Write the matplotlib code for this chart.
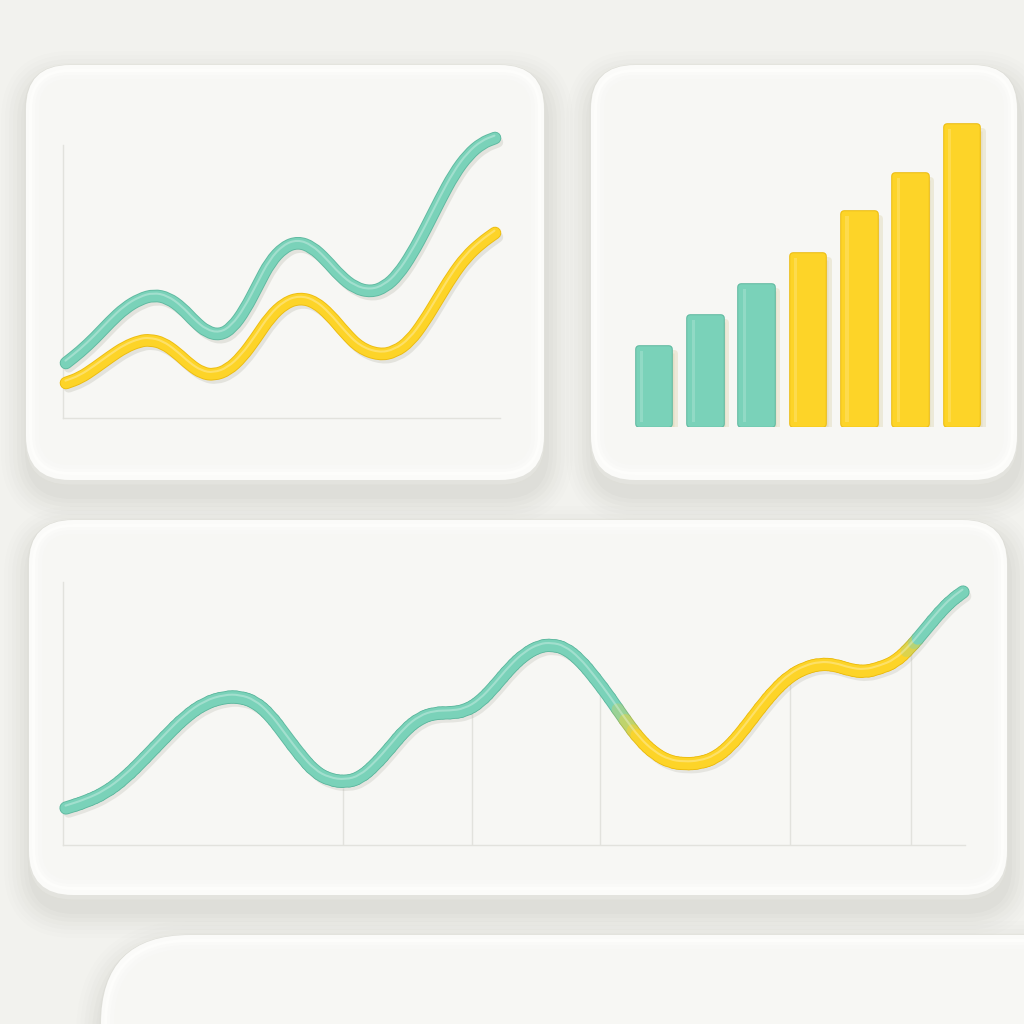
import numpy as np
import matplotlib
matplotlib.use("Agg")
import matplotlib.pyplot as plt
import matplotlib.patheffects as pe
import matplotlib.transforms as mtrans
from matplotlib.patches import FancyBboxPatch, PathPatch
from matplotlib.path import Path
from matplotlib.collections import LineCollection
from matplotlib.colors import to_rgb

# ---- data -------------------------------------------------------------
# top-left line chart (two series)
teal_x = [3, 17, 32, 47, 62, 77, 91, 105, 119, 132, 144, 157, 169, 182, 195, 207,
          221, 235, 249, 263, 277, 292, 308, 322, 335, 349, 363, 377, 391, 405, 419, 432]
teal_y = [55, 66, 80, 96, 110, 119, 123, 120, 110, 96, 86, 83, 90, 108, 133, 156,
          171, 176, 171, 158, 142, 130, 126, 131, 143, 164, 190, 218, 244, 263, 275, 280]
yellow_x = [3, 17, 32, 47, 62, 77, 87, 100, 114, 127, 139, 151, 165, 179, 193, 207,
            222, 237, 252, 267, 282, 297, 316, 332, 347, 361, 375, 389, 403, 418, 432]
yellow_y = [35, 40, 50, 61, 71, 77, 78, 75, 65, 53, 45, 43, 48, 61, 80, 101,
            115, 120, 116, 103, 85, 70, 63, 66, 77, 96, 119, 142, 161, 175, 185]

# top-right bar chart
bar_vals = [82, 113, 144, 175, 217, 255, 304]
bar_kind = ["teal", "teal", "teal", "yellow", "yellow", "yellow", "yellow"]

# bottom wide line chart
wide_x = [3, 22, 42, 62, 82, 102, 122, 142, 162, 177, 192, 207, 222, 237, 252, 267,
          283, 297, 312, 327, 342, 357, 372, 387, 402, 417, 432, 447, 462, 477, 489,
          502, 517, 532, 547, 562, 577, 592, 607, 622, 637, 652, 667, 682, 697, 712,
          727, 742, 757, 772, 787, 802, 817, 832, 847, 862, 877, 889, 900]
wide_y = [37, 43, 52, 67, 87, 108, 128, 142, 148, 148, 143, 130, 110, 90, 73, 65,
          63, 67, 80, 97, 115, 127, 132, 132, 134, 143, 159, 177, 191, 199, 200,
          197, 185, 167, 147, 125, 105, 91, 83, 81, 82, 87, 99, 117, 137, 155,
          169, 177, 181, 180, 175, 173, 177, 183, 197, 215, 233, 245, 253]
grid_x = [280, 409, 537, 727, 848]
yellow_from, yellow_to = 552, 842   # stretch of the wide line drawn in yellow

TEAL = "#7ad2b9"
TEAL_DK = "#5fb9a0"
YEL = "#fdd428"
YEL_DK = "#ecbc10"
BG = "#f2f2ee"
FACE = "#f7f7f4"
GRIDC = "#e2e2dd"

W = 1024


def box(l, t, r, b):
    return [l / W, 1 - b / W, (r - l) / W, (b - t) / W]


def smooth_path(x, y):
    # quadratic bezier through midpoints, readings used as control points
    p = np.column_stack([x, y]).astype(float)
    m = (p[:-1] + p[1:]) / 2
    verts = [p[0], m[0]]
    codes = [Path.MOVETO, Path.LINETO]
    for i in range(1, len(p) - 1):
        verts += [p[i], m[i]]
        codes += [Path.CURVE3, Path.CURVE3]
    verts.append(p[-1])
    codes.append(Path.LINETO)
    return Path(verts, codes)


def rbox(ax, l, t, w, h, rad, **kw):
    ax.add_patch(FancyBboxPatch((l, t), w, h, boxstyle=f"round,pad=0,rounding_size={rad}", **kw))


def panel(ax, l, t, r, b, rad=45):
    for i, a in enumerate([0.045, 0.04, 0.035, 0.03, 0.025, 0.02, 0.015]):
        g = 2 + i * 4
        rbox(ax, l - g + 2, t - g + 12, r - l + 2 * g, b - t + 2 * g, rad + g,
             fc="#9a9a90", ec="none", alpha=a, zorder=1)
    rbox(ax, l, t, r - l, b - t, rad, fc="#e3e3de", ec="#dedeD8", lw=0.6, zorder=2)
    rbox(ax, l + 1, t, r - l - 2, b - t - 5, rad - 1, fc="#fbfbf9", ec="none", zorder=3)
    # soft bevel: a few inset layers fading to the face colour
    for k, c in enumerate(["#fdfdfb", "#fafaf8", "#f8f8f6"]):
        d = 4 + k * 3
        rbox(ax, l + d, t + d, r - l - 2 * d, b - t - 2 * d - 6, rad - d, fc=c, ec="none", zorder=3.5 + k * 0.1)
    rbox(ax, l + 14, t + 14, r - l - 28, b - t - 34, rad - 14, fc=FACE, ec="none", zorder=4)


def highlight(ax, path, lw=1.5, z=6):
    ax.add_patch(PathPatch(path, fill=False, ec="white", lw=lw, alpha=0.3, capstyle="round",
                           clip_on=False, zorder=z,
                           transform=ax.transData + mtrans.ScaledTranslation(-0.4 / 72, 1.7 / 72, ax.figure.dpi_scale_trans)))


def tube(ax, path, color, dark, lw=7.8):
    fx = [pe.SimpleLineShadow(offset=(2, -3), shadow_color="#a8a89c", alpha=0.25),
          pe.Stroke(linewidth=lw + 1.3, foreground=dark), pe.Normal()]
    ax.add_patch(PathPatch(path, fill=False, ec=color, lw=lw, capstyle="round", joinstyle="round",
                           clip_on=False, zorder=5, path_effects=fx))
    highlight(ax, path)


def frame(ax, left_top):
    for s in ["top", "right"]:
        ax.spines[s].set_visible(False)
    ax.spines["left"].set_bounds(0, left_top)
    for s in ["left", "bottom"]:
        ax.spines[s].set_color(GRIDC)
        ax.spines[s].set_linewidth(1.0)
    ax.set_xticks([])
    ax.set_yticks([])
    ax.patch.set_alpha(0)


fig = plt.figure(figsize=(10.24, 10.24), dpi=100, facecolor=BG)
bg = fig.add_axes([0, 0, 1, 1])
bg.set_xlim(0, W)
bg.set_ylim(W, 0)
bg.axis("off")

panel(bg, 25, 65, 545, 485)
panel(bg, 590, 65, 1018, 485)
panel(bg, 28, 520, 1008, 900)
panel(bg, 100, 935, 1130, 1250, rad=90)

# ---- top-left line chart ----
ax1 = fig.add_axes(box(63, 130, 500, 418))
ax1.set_xlim(0, 437)
ax1.set_ylim(0, 288)
frame(ax1, 273)
tube(ax1, smooth_path(yellow_x, yellow_y), YEL, YEL_DK)
tube(ax1, smooth_path(teal_x, teal_y), TEAL, TEAL_DK)

# ---- top-right bar chart ----
ax2 = fig.add_axes(box(628.4, 100, 987.6, 427))
ax2.set_xlim(-0.5, 6.5)
ax2.set_ylim(0, 327)
ax2.axis("off")
xs = np.arange(len(bar_vals))
cols = [TEAL if k == "teal" else YEL for k in bar_kind]
dks = [TEAL_DK if k == "teal" else YEL_DK for k in bar_kind]
hts = [v - 7 for v in bar_vals]
sh = mtrans.ScaledTranslation(3 / 72, -3 / 72, fig.dpi_scale_trans)
ax2.bar(xs, hts, width=0.6, bottom=3.5, color="#d9cfa6", edgecolor="#d9cfa6", lw=5,
        joinstyle="round", alpha=0.35, transform=ax2.transData + sh, zorder=1)
ax2.bar(xs, hts, width=0.6, bottom=3.5, color=cols, edgecolor=dks, lw=5.5,
        joinstyle="round", zorder=2)
ax2.bar(xs, hts, width=0.6, bottom=3.5, color=cols, edgecolor=cols, lw=4,
        joinstyle="round", zorder=3)
ax2.bar(xs - 0.24, [h - 4 for h in hts], width=0.06, bottom=5.5, color="white",
        alpha=0.18, lw=0, zorder=4)

# ---- bottom wide line chart ----
ax3 = fig.add_axes(box(63, 560, 965, 845))
ax3.set_xlim(0, 902)
ax3.set_ylim(0, 285)
frame(ax3, 263)
wx = np.array(wide_x, dtype=float)
wy = np.array(wide_y, dtype=float)
ax3.vlines(grid_x, 0, np.interp(grid_x, wx, wy) - 6, color=GRIDC, lw=1.0, zorder=2)

wpath = smooth_path(wide_x, wide_y)
pts = wpath.to_polygons(closed_only=False)[0]
segs = np.stack([pts[:-1], pts[1:]], axis=1)
mid = segs.mean(axis=1)[:, 0]
t = np.clip((mid - yellow_from) / 26, 0, 1) * np.clip((yellow_to + 20 - mid) / 20, 0, 1)
c0, c1 = np.array(to_rgb(TEAL)), np.array(to_rgb(YEL))
d0, d1 = np.array(to_rgb(TEAL_DK)), np.array(to_rgb(YEL_DK))
seg_cols = c0 * (1 - t[:, None]) + c1 * t[:, None]
seg_dark = d0 * (1 - t[:, None]) + d1 * t[:, None]
ax3.add_patch(PathPatch(wpath, fill=False, ec="#a8a89c", lw=8, alpha=0.22, capstyle="round",
                        clip_on=False, zorder=3,
                        transform=ax3.transData + mtrans.ScaledTranslation(2 / 72, -3 / 72, fig.dpi_scale_trans)))
under = LineCollection(segs, colors=seg_dark, linewidths=9.5, capstyle="round", zorder=4)
lc = LineCollection(segs, colors=seg_cols, linewidths=8.2, capstyle="round", zorder=5)
for c in (under, lc):
    c.set_clip_on(False)
    ax3.add_collection(c)
highlight(ax3, wpath)

fig.savefig("out.png", dpi=100, facecolor=BG)
